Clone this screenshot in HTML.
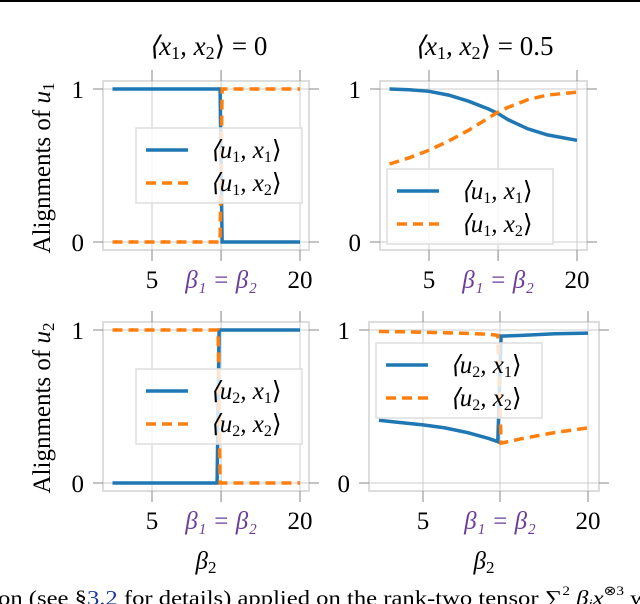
<!DOCTYPE html>
<html><head><meta charset="utf-8"><style>
body{margin:0;background:#fff;width:640px;height:604px;overflow:hidden}
svg{display:block;font-family:"Liberation Serif",serif}
</style></head><body>
<svg id="fig" width="640" height="604">
<rect x="0" y="0" width="640" height="2" fill="#000"/>
<text x="208" y="55" font-size="27" text-anchor="middle" font-style="italic">⟨x<tspan font-size="18" dy="4" font-style="normal">1</tspan><tspan dy="-4">, x</tspan><tspan font-size="18" dy="4" font-style="normal">2</tspan><tspan dy="-4" font-style="normal">⟩ = 0</tspan></text>
<text x="484" y="55" font-size="27" text-anchor="middle" font-style="italic">⟨x<tspan font-size="18" dy="4" font-style="normal">1</tspan><tspan dy="-4">, x</tspan><tspan font-size="18" dy="4" font-style="normal">2</tspan><tspan dy="-4" font-style="normal">⟩ = 0.5</tspan></text>
<text transform="translate(50,168) rotate(-90)" font-size="25" text-anchor="middle">Alignments of <tspan font-style="italic">u</tspan><tspan font-size="17" dy="4">1</tspan></text>
<text transform="translate(50,408) rotate(-90)" font-size="25" text-anchor="middle">Alignments of <tspan font-style="italic">u</tspan><tspan font-size="17" dy="4">2</tspan></text>
<text x="206" y="569" font-size="25" text-anchor="middle" font-style="italic">β<tspan font-size="17" dy="4" font-style="normal">2</tspan></text>
<text x="484" y="569" font-size="25" text-anchor="middle" font-style="italic">β<tspan font-size="17" dy="4" font-style="normal">2</tspan></text>
<text x="-2" y="605" font-size="21" textLength="650" lengthAdjust="spacingAndGlyphs">on (see §<tspan fill="#1a3a9a">3.2</tspan> for details) applied on the rank-two tensor ∑<tspan font-size="13" dy="-10">2</tspan><tspan dy="10"> </tspan><tspan font-style="italic">β<tspan font-size="13" dy="3">i</tspan><tspan dy="-3">x</tspan></tspan><tspan font-size="13" dy="-10">⊗3</tspan><tspan dy="10"> w</tspan></text>
<g id="panels"></g>
</svg>
<script>
const tickVals=[5,12,20];
const tickLabels=["5","β₁ = β₂","20"];
const yTicks=[0,1];
// top-left
const tlX1=[1,11.9,12.1,20];
const tlU1x1=[1,1,0,0];
const tlX2=[1,11.9,12.1,20];
const tlU1x2=[0,0,1,1];
// top-right
const trX=[1,3,5,7,9,11,12,13,15,17,20];
const trU1x1=[1,0.995,0.985,0.96,0.92,0.87,0.84,0.8,0.74,0.7,0.665];
const trU1x2=[0.51,0.55,0.6,0.66,0.73,0.81,0.85,0.88,0.93,0.96,0.98];
// bottom-left
const blU2x1=[0,0,1,1];
const blU2x2=[1,1,0,0];
const blXa=[1,11.6,11.8,20];
const blXb=[1,11.7,11.9,20];
// bottom-right
const brX=[1,3,5,7,9,11,11.8,12.1,14,17,20];
const brU2x1=[0.41,0.395,0.38,0.36,0.33,0.29,0.27,0.96,0.965,0.975,0.98];
const brU2x2=[0.99,0.988,0.985,0.982,0.978,0.972,0.965,0.26,0.29,0.33,0.36];

const NS="http://www.w3.org/2000/svg";
const g=document.getElementById('panels');
function mk(t,a,p){const e=document.createElementNS(NS,t);for(const k in a)e.setAttribute(k,a[k]);(p||g).appendChild(e);return e;}
function panel(name,fx,fy,fw,fh,x5,x20,y1,y0,series,leg,legLabels){
  const sx=v=>x5+(v-5)*(x20-x5)/15, sy=v=>y0+(y1-y0)*v;
  const pg=mk('g',{});
  
  
  const fr=mk('rect',{x:fx,y:fy,width:fw,height:fh,fill:'none',stroke:'#ddd','stroke-width':2},pg);
  
  
  tickVals.forEach((t,i)=>{
    const gl=mk('line',{x1:sx(t),x2:sx(t),y1:fy-11,y2:fy+fh+11,stroke:'#ccc','stroke-width':1},pg);
    
    
    mk('line',{x1:sx(t),x2:sx(t),y1:fy+fh,y2:fy+fh+11,stroke:'#888','stroke-width':1},pg);
    mk('line',{x1:sx(t),x2:sx(t),y1:fy-11,y2:fy,stroke:'#888','stroke-width':1},pg);
    const tx=mk('text',{x:sx(t),y:fy+fh+38,'font-size':25,'text-anchor':'middle',fill:i==1?'#6a3d9a':'#000','font-style':i==1?'italic':'normal'},pg);
    tx.textContent=tickLabels[i];
    
    
  });
  yTicks.forEach(t=>{
    const gl=mk('line',{x1:fx-10,x2:fx+fw+10,y1:sy(t),y2:sy(t),stroke:'#ccc','stroke-width':1},pg);
    
    
    mk('line',{x1:fx-10,x2:fx,y1:sy(t),y2:sy(t),stroke:'#888','stroke-width':1},pg);
    mk('line',{x1:fx+fw,x2:fx+fw+10,y1:sy(t),y2:sy(t),stroke:'#888','stroke-width':1},pg);
    const tx=mk('text',{x:fx-19,y:sy(t)+9,'font-size':25,'text-anchor':'end'},pg);
    tx.textContent=String(t);
    
    
  });
  series.forEach(s=>{
    const d=s.x.map((v,i)=>(i?'L':'M')+sx(v).toFixed(1)+','+sy(s.y[i]).toFixed(1)).join('');
    const p=mk('path',{d:d,fill:'none',stroke:s.c,'stroke-width':3.5,'stroke-dasharray':s.dash?'10,6':'none'},pg);
    
    
  });
  const lg=mk('g',{},pg);
  
  
  mk('rect',{x:leg[0],y:leg[1],width:166,height:75,fill:'rgba(255,255,255,0.8)',stroke:'#ddd','stroke-width':1.5},lg);
  [['#1f77b4',false],['#ff7f0e',true]].forEach((c,i)=>{
    const yy=leg[1]+22+i*33;
    mk('line',{x1:leg[0]+10,x2:leg[0]+52,y1:yy,y2:yy,stroke:c[0],'stroke-width':3.5,'stroke-dasharray':c[1]?'10,6':'none'},lg);
    const t=mk('text',{x:leg[0]+74,y:yy+8,'font-size':25,'font-style':'italic'},lg);
    t.innerHTML=legLabels[i];
    
    
  });
}
const lab=(u,x)=>`⟨u<tspan font-size="16" dy="4" font-style="normal">${u}</tspan><tspan dy="-4">, x</tspan><tspan font-size="16" dy="4" font-style="normal">${x}</tspan><tspan dy="-4" font-style="normal">⟩</tspan>`;
panel('panel-top-left',103,81,206,169,152,300,89,242,[
 {x:tlX1,y:tlU1x1,c:'#1f77b4',name:'line-u1-x1'},
 {x:tlX2,y:tlU1x2,c:'#ff7f0e',dash:1,name:'line-u1-x2'}],[136,128],[lab(1,1),lab(1,2)]);
panel('panel-top-right',380,81,207,169,429,577,89,242,[
 {x:trX,y:trU1x1,c:'#1f77b4',name:'line-u1-x1'},
 {x:trX,y:trU1x2,c:'#ff7f0e',dash:1,name:'line-u1-x2'}],[387,169],[lab(1,1),lab(1,2)]);
panel('panel-bottom-left',103,322,206,169,152,300,330,483,[
 {x:blXa,y:blU2x1,c:'#1f77b4',name:'line-u2-x1'},
 {x:blXb,y:blU2x2,c:'#ff7f0e',dash:1,name:'line-u2-x2'}],[136,369],[lab(2,1),lab(2,2)]);
panel('panel-bottom-right',369,322,230,169,423,588,330,483,[
 {x:brX,y:brU2x1,c:'#1f77b4',name:'line-u2-x1'},
 {x:brX,y:brU2x2,c:'#ff7f0e',dash:1,name:'line-u2-x2'}],[376,343],[lab(2,1),lab(2,2)]);
</script>
</body></html>
